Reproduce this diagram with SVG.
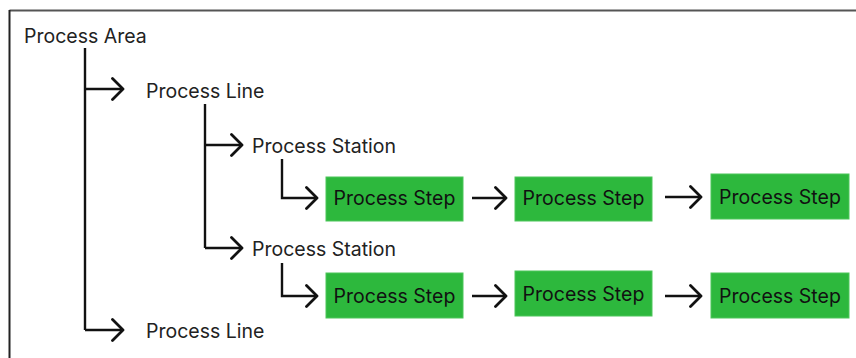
<svg xmlns="http://www.w3.org/2000/svg" width="856" height="358" viewBox="0 0 856 358">
  <defs>
    <marker id="chev" viewBox="0 0 14 24" refX="12" refY="12" markerWidth="14" markerHeight="24" markerUnits="userSpaceOnUse" orient="auto">
      <path d="M1.5,1.5 L12,12 L1.5,22.5" fill="none" stroke="#111" stroke-width="2.8" stroke-linecap="round" stroke-linejoin="round"/>
    </marker>
  </defs>
  <style>
    .lbl { font-family: Inter, "Liberation Sans", sans-serif; font-size: 19.5px; fill: #222; }
    .step rect { fill: #2db83d; stroke: #4cc65a; stroke-width: 1; }
    .step text { font-family: Inter, "Liberation Sans", sans-serif; font-size: 19.5px; fill: #111; text-anchor: middle; }
    .wire { fill: none; stroke: #111; stroke-width: 2.4; }
    .arrow { marker-end: url(#chev); }
  </style>
  <rect width="856" height="358" fill="#fff"/>
  <!-- frame edges -->
  <line x1="9.5" y1="10.5" x2="856" y2="10.5" stroke="#555" stroke-width="2"/>
  <line x1="9.5" y1="10" x2="9.5" y2="358" stroke="#222" stroke-width="2"/>

  <g id="connectors">
    <!-- area trunk -->
    <path class="wire" d="M85,48 V330"/>
    <path class="wire arrow" d="M85,89 H123"/>
    <path class="wire arrow" d="M85,330 H123"/>
    <!-- line trunk -->
    <path class="wire" d="M205,104 V248"/>
    <path class="wire arrow" d="M205,145 H242"/>
    <path class="wire arrow" d="M205,248 H242"/>
    <!-- station to first step -->
    <path class="wire arrow" d="M282,159 V198 H317"/>
    <path class="wire arrow" d="M282,263 V296 H317"/>
    <!-- step chains -->
    <path class="wire arrow" d="M472,198 H506"/>
    <path class="wire arrow" d="M665,197 H701"/>
    <path class="wire arrow" d="M472,296 H506"/>
    <path class="wire arrow" d="M665,296 H701"/>
  </g>

  <g id="area"><text class="lbl" x="24" y="43">Process Area</text></g>
  <g id="line1"><text class="lbl" x="146" y="98">Process Line</text></g>
  <g id="line2"><text class="lbl" x="146" y="338">Process Line</text></g>
  <g id="station1"><text class="lbl" x="252" y="153">Process Station</text></g>
  <g id="station2"><text class="lbl" x="252" y="256">Process Station</text></g>

  <g id="step1a" class="step"><rect x="326" y="177" width="137" height="44"/><text x="394.5" y="205">Process Step</text></g>
  <g id="step1b" class="step"><rect x="515" y="177" width="137" height="44"/><text x="583.5" y="205">Process Step</text></g>
  <g id="step1c" class="step"><rect x="711" y="174" width="138" height="45"/><text x="780" y="204">Process Step</text></g>
  <g id="step2a" class="step"><rect x="326" y="273" width="137" height="45"/><text x="394.5" y="303">Process Step</text></g>
  <g id="step2b" class="step"><rect x="515" y="271" width="137" height="45"/><text x="583.5" y="301">Process Step</text></g>
  <g id="step2c" class="step"><rect x="711" y="273" width="138" height="45"/><text x="780" y="303">Process Step</text></g>
</svg>
